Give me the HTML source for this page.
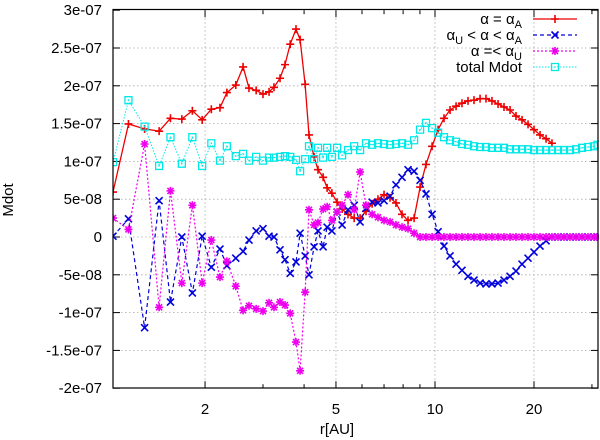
<!DOCTYPE html>
<html><head><meta charset="utf-8"><style>
html,body{margin:0;padding:0;background:#fff;}
svg{display:block;font-family:"Liberation Sans",sans-serif;}
</style></head><body>
<svg id="chart" width="600" height="440" viewBox="0 0 600 440">
<defs><clipPath id="plotclip"><rect x="113" y="9" width="486" height="380"/></clipPath></defs>
<g id="grid"></g>
<g id="axes"></g>
<g id="series" clip-path="url(#plotclip)"></g>
<rect x="113" y="9.5" width="485" height="378.5" fill="none" stroke="#000" stroke-width="1.2"/>
<text x="13" y="200" font-size="15" text-anchor="middle" transform="rotate(-90 13 200)">Mdot</text>
<text x="337" y="434" font-size="15" text-anchor="middle">r[AU]</text>
<g id="legend"></g>
</svg>
<script>
// shared radii (AU)
const radii = [1.05,1.17,1.31,1.45,1.57,1.70,1.83,1.96,2.09,2.22,2.33,2.48,2.61,2.72,2.86,3.00,3.13,3.24,3.38,3.50,3.63,3.78,3.89,4.03,4.14,4.29,4.41,4.57,4.70,4.86,5.04,
5.22,5.44,5.68,5.92,6.17,6.44,6.71,7.00,7.30,7.61,7.94,8.28,8.64,9.01,9.39,9.80,10.22,10.65,11.11,11.59,12.08,12.60,13.14,13.71,14.29,14.90,15.55,16.21,16.91,17.63,18.39,19.18,20.0,20.86,21.76,22.68,23.66,24.67,25.73,26.84,27.98,29.18,30.44,31.2];
// values in units of 1e-8
const UNIT = 1e-8;
const alphaA = [5.95,14.95,14.3,14.0,15.7,15.6,16.7,15.5,16.9,17.1,19.1,20.1,22.5,19.7,19.4,18.9,19.2,19.8,21.0,22.8,25.5,27.5,26.1,20.2,13.5,10.6,8.9,7.9,6.5,5.8,4.6,
3.7,3.0,2.5,2.5,3.4,4.4,5.0,5.6,5.2,4.5,3.0,2.2,2.5,6.6,9.6,12.0,14.2,15.7,16.8,17.3,17.7,18.0,18.1,18.3,18.3,18.0,17.6,17.2,16.8,16.0,15.5,14.9,14.2,13.5,13.0,12.4,
null,null,null,null,null,null,null,null];
const alphaMid = [0.1,2.4,-12.0,4.8,-8.6,0,-7.4,0.1,-4.0,-1.6,-3.8,-2.8,-1.9,-0.4,0.8,1.1,0.1,0,-1.7,-3.0,-4.8,-3.3,0.5,-2.5,-5.0,-1.3,0.8,-1.3,1.3,0.8,3.3,
1.6,3.6,4.2,2.0,3.8,4.6,4.5,4.8,5.4,6.9,7.9,8.9,8.7,7.5,5.7,3.0,0.7,-1.2,-2.5,-3.6,-4.4,-5.2,-5.7,-6.1,-6.2,-6.2,-6.1,-5.7,-5.2,-4.5,-3.6,-2.8,-2.0,-1.2,-0.5,0,
0,0,0,0,0,0,0,0];
const alphaU = [2.5,1.0,12.3,-9.3,6.1,-6.1,4.2,-6.1,-0.4,-5.3,-3.2,-6.5,-9.7,-9.1,-9.5,-9.8,-8.7,-9.3,-8.6,-9.0,-10.1,-13.9,-17.7,-7.3,3.6,1.6,1.9,3.7,4.0,2.2,3.3,
4.2,5.6,3.6,8.6,4.2,3.0,2.6,2.2,2.0,1.6,1.3,1.1,0.5,0,0,0,0,0,0,0,0,0,0,0,0,0,0,0,0,0,0,0,0,0,0,0,0,0,0,0,0,0,0,0];
const total = [9.9,18.1,14.6,9.4,13.2,9.7,13.2,9.4,12.4,10.1,12.0,10.7,11.0,10.1,10.6,10.1,10.5,10.5,10.6,10.7,10.6,10.2,8.7,10.3,12.0,10.3,11.8,10.5,11.8,10.6,11.8,
10.8,11.5,12.0,11.5,12.4,12.2,12.4,12.3,12.2,12.3,12.4,12.2,12.8,14.2,15.1,14.4,13.8,13.2,12.8,12.6,12.3,12.2,12.0,11.9,11.9,11.8,11.8,11.8,11.6,11.6,11.6,11.6,11.5,11.5,11.5,11.5,11.5,11.5,11.5,11.6,11.8,11.9,12.0,12.2];
const yTicks = [3e-7,2.5e-7,2e-7,1.5e-7,1e-7,5e-8,0,-5e-8,-1e-7,-1.5e-7,-2e-7];
const yTickLabels = ["3e-07","2.5e-07","2e-07","1.5e-07","1e-07","5e-08","0","-5e-08","-1e-07","-1.5e-07","-2e-07"];
const xTicks = [2,5,10,20];
const xTickLabels = ["2","5","10","20"];
const xMinor = [3,4,6,7,8,9,30];

const L=113,R=598,T=10.2,B=388.2;
const XMIN=1.05,XMAX=31.3,YMIN=-2e-7,YMAX=3e-7;
const NS='http://www.w3.org/2000/svg';
function xs(r){return L+(Math.log10(r)-Math.log10(XMIN))/(Math.log10(XMAX)-Math.log10(XMIN))*(R-L);}
function ys(v){return B-(v-YMIN)/(YMAX-YMIN)*(B-T);}
function mk(tag,attrs,parent){const e=document.createElementNS(NS,tag);for(const k in attrs)e.setAttribute(k,attrs[k]);parent.appendChild(e);return e;}
const grid=document.getElementById('grid'),axes=document.getElementById('axes'),ser=document.getElementById('series'),leg=document.getElementById('legend');

yTicks.forEach((v,i)=>{
  const y=ys(v);
  if(i>0&&i<yTicks.length-1){const g=mk('line',{x1:L,x2:R,y1:y,y2:y,stroke:'#aaa','stroke-width':0.8,'stroke-dasharray':'1.5,2.5'},grid);
  
  }
  mk('line',{x1:L,x2:L+7,y1:y,y2:y,stroke:'#000'},axes);
  mk('line',{x1:R-7,x2:R,y1:y,y2:y,stroke:'#000'},axes);
  const t=mk('text',{x:102,y:y+5,'font-size':15,'text-anchor':'end'},axes);
  t.textContent=yTickLabels[i];
  
  
});
xTicks.forEach((r,i)=>{
  const x=xs(r);
  const g=mk('line',{x1:x,x2:x,y1:T,y2:B,stroke:'#aaa','stroke-width':0.8,'stroke-dasharray':'1.5,2.5'},grid);
  
  
  mk('line',{x1:x,x2:x,y1:B,y2:B-7,stroke:'#000'},axes);
  mk('line',{x1:x,x2:x,y1:T,y2:T+7,stroke:'#000'},axes);
  const t=mk('text',{x:x,y:414,'font-size':15,'text-anchor':'middle'},axes);
  t.textContent=xTickLabels[i];
  
  
});
xMinor.forEach(r=>{const x=xs(r);mk('line',{x1:x,x2:x,y1:B,y2:B-4,stroke:'#000'},axes);mk('line',{x1:x,x2:x,y1:T,y2:T+4,stroke:'#000'},axes);});

function marker(type,x,y,color,parent){
  let d;
  if(type==='plus')d=`M${x-4},${y}h8M${x},${y-4}v8`;
  else if(type==='cross')d=`M${x-3.5},${y-3.5}l7,7M${x-3.5},${y+3.5}l7,-7`;
  else if(type==='star')d=`M${x-4},${y}h8M${x},${y-4}v8M${x-3},${y-3}l6,6M${x-3},${y+3}l6,-6`;
  else d=`M${x-3.5},${y-3.5}h7v7h-7zM${x-0.7},${y}h1.4`;
  return mk('path',{d:d,stroke:color,'stroke-width':type==='square'?1.3:1.6,fill:'none'},parent);
}
const seriesDefs=[
 {name:'alpha-a-series',vals:alphaA,color:'#ee0000',dash:'',mk:'plus',w:1.3},
 {name:'alpha-mid-series',vals:alphaMid,color:'#0000dd',dash:'4,3',mk:'cross',w:1.2},
 {name:'alpha-u-series',vals:alphaU,color:'#ee00ee',dash:'2,2',mk:'star',w:1.2},
 {name:'total-mdot-series',vals:total,color:'#00e8e8',dash:'1.5,1.5',mk:'square',w:1}
];
seriesDefs.forEach(s=>{
  const g=mk('g',{},ser);
  
  
  let d='',pen=false;
  s.vals.forEach((v,i)=>{
    if(v===null){pen=false;return;}
    const x=xs(radii[i]),y=ys(v*UNIT);
    d+=(pen?'L':'M')+x.toFixed(1)+','+y.toFixed(1);pen=true;
  });
  mk('path',{d:d,stroke:s.color,'stroke-width':s.w,fill:'none','stroke-dasharray':s.dash},g);
  s.vals.forEach((v,i)=>{
    if(v===null)return;
    const p=marker(s.mk,xs(radii[i]),ys(v*UNIT),s.color,g);
    
    
  });
});
// legend
const legRows=[
 {y:24,html:'α = α<tspan font-size="11" dy="4">A</tspan>'},
 {y:40,html:'α<tspan font-size="11" dy="4">U</tspan><tspan dy="-4"> &lt;  α &lt; α</tspan><tspan font-size="11" dy="4">A</tspan>'},
 {y:56,html:'α =&lt; α<tspan font-size="11" dy="4">U</tspan>'},
 {y:72,html:'total Mdot'}
];
legRows.forEach((r,i)=>{
  const g=mk('g',{},leg);
  
  
  const t=mk('text',{x:522,y:r.y,'font-size':15,'text-anchor':'end'},g);
  t.innerHTML=r.html;
  const s=seriesDefs[i];
  mk('line',{x1:533,x2:577,y1:r.y-5,y2:r.y-5,stroke:s.color,'stroke-width':s.w,'stroke-dasharray':s.dash},g);
  marker(s.mk,555,r.y-5,s.color,g);
});
</script>
</body></html>
